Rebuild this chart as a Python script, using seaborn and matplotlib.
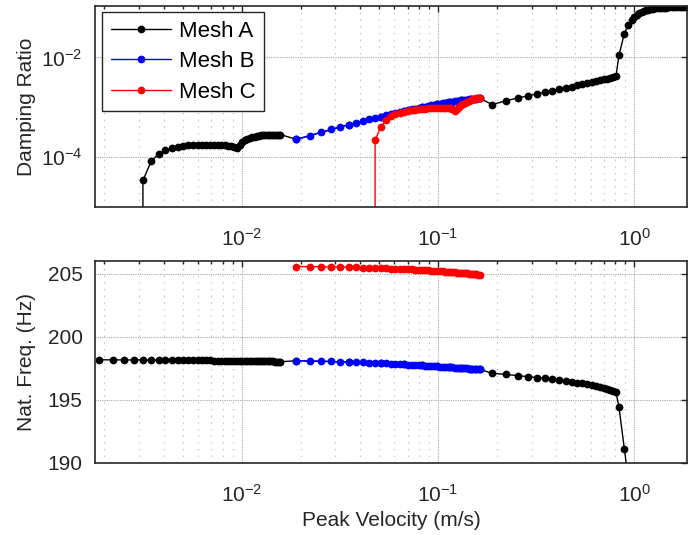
import matplotlib
matplotlib.use("Agg")
import matplotlib.pyplot as plt
import seaborn as sns
from matplotlib.ticker import (FixedLocator, LogLocator, NullLocator,
                               NullFormatter, LogFormatterSciNotation)

# ---------------- Mesh A ----------------
vel_a = [
    0.00188, 0.00220, 0.00251, 0.00283, 0.00314, 0.00346, 0.00377, 0.00409,
    0.00440, 0.00472, 0.00503, 0.00535, 0.00566, 0.00598, 0.00629, 0.00661,
    0.00692, 0.00724, 0.00755, 0.00787, 0.00818, 0.00850, 0.00881, 0.00913,
    0.00944, 0.00976, 0.01007, 0.01039, 0.01070, 0.01102, 0.01133, 0.01165,
    0.01196, 0.01228, 0.01259, 0.01291, 0.01322, 0.01354, 0.01385, 0.01417,
    0.01448, 0.01480, 0.01511, 0.01543, 0.01574,
    0.0190, 0.0350, 0.0510, 0.0670, 0.0830, 0.0990, 0.1150, 0.1310, 0.1470,
    0.1630,
    0.189, 0.221, 0.254, 0.286, 0.319, 0.350, 0.380, 0.414, 0.448, 0.479,
    0.509, 0.540, 0.573, 0.605, 0.637, 0.668, 0.697, 0.725, 0.755, 0.782,
    0.806,
    0.835, 0.889, 0.930, 0.970, 1.00, 1.03, 1.06, 1.09, 1.12, 1.15, 1.18,
    1.21, 1.25, 1.29, 1.33, 1.37, 1.41, 1.45, 1.50, 1.55, 1.60, 1.65, 1.70,
    1.75, 1.80, 1.85,
]
damp_a = [
    -2.0e-4, -1.4e-4, -9.0e-5, -4.0e-5, 3.4e-5, 8.3e-5, 1.15e-4, 1.36e-4,
    1.50e-4, 1.60e-4, 1.67e-4, 1.72e-4, 1.75e-4, 1.77e-4, 1.78e-4, 1.785e-4,
    1.785e-4, 1.78e-4, 1.77e-4, 1.75e-4, 1.72e-4, 1.69e-4, 1.65e-4, 1.58e-4,
    1.53e-4, 1.72e-4, 1.97e-4, 2.16e-4, 2.31e-4, 2.43e-4, 2.52e-4, 2.59e-4,
    2.65e-4, 2.69e-4, 2.73e-4, 2.76e-4, 2.78e-4, 2.80e-4, 2.81e-4, 2.82e-4,
    2.83e-4, 2.83e-4, 2.84e-4, 2.84e-4, 2.84e-4,
    2.27e-4, 4.46e-4, 6.50e-4, 8.35e-4, 1.002e-3, 1.148e-3, 1.272e-3,
    1.374e-3, 1.458e-3, 1.518e-3,
    1.13e-3, 1.35e-3, 1.53e-3, 1.69e-3, 1.85e-3, 2.00e-3, 2.15e-3, 2.30e-3,
    2.45e-3, 2.59e-3, 2.74e-3, 2.88e-3, 3.03e-3, 3.18e-3, 3.33e-3, 3.47e-3,
    3.61e-3, 3.75e-3, 3.90e-3, 4.05e-3, 4.20e-3,
    0.0111, 0.0300, 0.0447, 0.0563, 0.0650, 0.0715, 0.0770, 0.0812, 0.0848,
    0.0878, 0.0902, 0.0922, 0.0943, 0.0960, 0.0973, 0.0984, 0.0993, 0.1000,
    0.1008, 0.1014, 0.1019, 0.1023, 0.1026, 0.1029, 0.1031, 0.1033,
]
freq_a = [
    198.17, 198.17, 198.16, 198.16, 198.16, 198.15, 198.15, 198.15, 198.14,
    198.14, 198.14, 198.13, 198.13, 198.13, 198.12, 198.12, 198.12, 198.11,
    198.11, 198.11, 198.10, 198.10, 198.10, 198.09, 198.09, 198.09, 198.08,
    198.08, 198.08, 198.07, 198.07, 198.07, 198.06, 198.06, 198.06, 198.05,
    198.05, 198.05, 198.04, 198.04, 198.04, 198.03, 198.03, 198.03, 198.02,
    198.10, 198.00, 197.90, 197.81, 197.73, 197.66, 197.59, 197.53, 197.47,
    197.42,
    197.10, 197.02, 196.92, 196.84, 196.76, 196.71, 196.66, 196.58, 196.50,
    196.44, 196.37, 196.31, 196.23, 196.16, 196.10, 196.02, 195.94, 195.87,
    195.79, 195.71, 195.60,
    194.42, 191.13, 188.8, 186.9, 185.6, 184.4, 183.3, 182.3, 181.4, 180.6,
    179.8, 179.1, 178.2, 177.4, 176.7, 176.0, 175.4, 174.8, 174.1, 173.4,
    172.8, 172.2, 171.7, 171.2, 170.7, 170.2,
]

# ---------------- Mesh B / Mesh C (same velocity steps) ----------------
vel_bc = [
    0.0190, 0.0222, 0.0254, 0.0286, 0.0318, 0.0350, 0.0382, 0.0414, 0.0446,
    0.0478, 0.0510, 0.0542, 0.0574, 0.0606, 0.0638, 0.0670, 0.0702, 0.0734,
    0.0766, 0.0798, 0.0830, 0.0862, 0.0894, 0.0926, 0.0958, 0.0990, 0.1022,
    0.1054, 0.1086, 0.1118, 0.1150, 0.1182, 0.1214, 0.1246, 0.1278, 0.1310,
    0.1342, 0.1374, 0.1406, 0.1438, 0.1470, 0.1502, 0.1534, 0.1566, 0.1598,
    0.1630,
]
damp_b = [
    2.27e-4, 2.70e-4, 3.15e-4, 3.60e-4, 4.03e-4, 4.46e-4, 4.88e-4, 5.30e-4,
    5.70e-4, 6.10e-4, 6.50e-4, 6.88e-4, 7.26e-4, 7.63e-4, 7.99e-4, 8.35e-4,
    8.70e-4, 9.04e-4, 9.37e-4, 9.70e-4, 1.002e-3, 1.033e-3, 1.063e-3,
    1.092e-3, 1.120e-3, 1.148e-3, 1.175e-3, 1.200e-3, 1.225e-3, 1.250e-3,
    1.272e-3, 1.294e-3, 1.315e-3, 1.335e-3, 1.355e-3, 1.374e-3, 1.392e-3,
    1.410e-3, 1.427e-3, 1.443e-3, 1.458e-3, 1.472e-3, 1.485e-3, 1.497e-3,
    1.508e-3, 1.518e-3,
]
freq_b = [
    198.10, 198.08, 198.06, 198.04, 198.02, 198.00, 197.98, 197.96, 197.94,
    197.92, 197.90, 197.88, 197.86, 197.85, 197.83, 197.81, 197.80, 197.78,
    197.76, 197.75, 197.73, 197.72, 197.70, 197.69, 197.67, 197.66, 197.64,
    197.63, 197.62, 197.60, 197.59, 197.58, 197.56, 197.55, 197.54, 197.53,
    197.51, 197.50, 197.49, 197.48, 197.47, 197.46, 197.45, 197.44, 197.43,
    197.42,
]
damp_c = [
    -6.0e-4, -5.2e-4, -4.5e-4, -3.8e-4, -3.1e-4, -2.4e-4, -1.7e-4, -1.0e-4,
    -3.0e-5, 2.17e-4, 4.00e-4, 5.45e-4, 6.60e-4, 7.30e-4, 7.80e-4, 8.20e-4,
    8.50e-4, 8.75e-4, 8.95e-4, 9.10e-4, 9.25e-4, 9.40e-4, 9.50e-4, 9.60e-4,
    9.70e-4, 9.75e-4, 9.80e-4, 9.80e-4, 9.75e-4, 9.65e-4, 9.50e-4, 9.10e-4,
    8.60e-4, 9.30e-4, 1.01e-3, 1.09e-3, 1.16e-3, 1.23e-3, 1.29e-3, 1.35e-3,
    1.40e-3, 1.45e-3, 1.49e-3, 1.52e-3, 1.55e-3, 1.57e-3,
]
freq_c = [
    205.56, 205.55, 205.54, 205.53, 205.52, 205.50, 205.49, 205.48, 205.46,
    205.45, 205.43, 205.42, 205.40, 205.39, 205.37, 205.36, 205.34, 205.33,
    205.31, 205.30, 205.28, 205.27, 205.25, 205.24, 205.22, 205.20, 205.19,
    205.17, 205.16, 205.14, 205.13, 205.11, 205.10, 205.08, 205.07, 205.05,
    205.04, 205.02, 205.01, 204.99, 204.98, 204.96, 204.95, 204.94, 204.92,
    204.91,
]

series = [
    ("Mesh A", vel_a, damp_a, freq_a, "#000000"),
    ("Mesh B", vel_bc, damp_b, freq_b, "#0000FF"),
    ("Mesh C", vel_bc, damp_c, freq_c, "#FF0000"),
]

sns.set_style("white")
plt.rcParams["font.family"] = ["Liberation Sans", "DejaVu Sans"]
plt.rcParams["mathtext.fontset"] = "custom"
plt.rcParams["mathtext.rm"] = "Liberation Sans"
plt.rcParams["mathtext.it"] = "Liberation Sans:italic"
plt.rcParams["mathtext.bf"] = "Liberation Sans:bold"

TXT = "#262626"
FS = 15

fig = plt.figure(figsize=(6.93, 5.35), dpi=100)
ax1 = fig.add_axes([0.1371, 0.6131, 0.8543, 0.3757])
ax2 = fig.add_axes([0.1371, 0.1346, 0.8543, 0.3776])

line_kw = dict(marker="o", markersize=5.6, markeredgewidth=0, linewidth=1.0,
               estimator=None, sort=False)

for name, v, d, f, c in series:
    sns.lineplot(x=v, y=d, ax=ax1, color=c, label=name, **line_kw)
    sns.lineplot(x=v, y=f, ax=ax2, color=c, legend=False, **line_kw)

# log scales applied after drawing so negative damping plunges off the axis
ax1.set_xscale("log")
ax1.set_yscale("log")
ax2.set_xscale("log")

xlim = (1.79e-3, 1.855)
ax1.set_xlim(*xlim)
ax2.set_xlim(*xlim)
ax1.set_ylim(1e-5, 0.1075)
ax2.set_ylim(190, 206)

ax1.yaxis.set_major_locator(FixedLocator([1e-4, 1e-2]))
ax1.yaxis.set_major_formatter(LogFormatterSciNotation())
ax1.yaxis.set_minor_locator(NullLocator())
ax2.yaxis.set_major_locator(FixedLocator([190, 195, 200, 205]))
ax2.yaxis.set_minor_locator(NullLocator())

for ax in (ax1, ax2):
    ax.xaxis.set_major_locator(FixedLocator([1e-2, 1e-1, 1e0]))
    ax.xaxis.set_major_formatter(LogFormatterSciNotation())
    ax.xaxis.set_minor_locator(LogLocator(base=10, subs=range(2, 10), numticks=20))
    ax.xaxis.set_minor_formatter(NullFormatter())
    ax.tick_params(which="both", direction="in", top=True, right=True,
                   color=TXT, labelcolor=TXT, labelsize=FS, width=1.0)
    ax.tick_params(which="major", length=4.5, pad=9)
    ax.tick_params(which="minor", length=2.5)
    ax.tick_params(axis="x", which="major", pad=15)
    for s in ax.spines.values():
        s.set_color(TXT)
        s.set_linewidth(1.2)
    ax.grid(which="major", axis="both", color="#a8a8a8", linestyle=(0, (1, 1)),
            linewidth=0.8)
    ax.grid(which="minor", axis="x", color="#b4b4b4", linestyle=(0, (1, 5)),
            linewidth=0.8)
    ax.set_axisbelow(True)
    ax.set_xlabel("")

ax1.set_ylabel("Damping Ratio", fontsize=FS, color=TXT)
ax2.set_ylabel("Nat. Freq. (Hz)", fontsize=FS, color=TXT)
ax2.set_xlabel("Peak Velocity (m/s)", fontsize=FS, color=TXT)
ax1.yaxis.set_label_coords(-0.10, 0.5)
ax2.yaxis.set_label_coords(-0.10, 0.5)
ax2.xaxis.set_label_coords(0.5, -0.24)

handles, labels = ax1.get_legend_handles_labels()
leg = ax1.legend(handles, labels, loc="upper left", bbox_to_anchor=(0.0118, 0.970),
                 borderaxespad=0, fontsize=16, frameon=True, fancybox=False,
                 framealpha=1, edgecolor=TXT, handlelength=2.7,
                 handletextpad=0.35, labelspacing=0.42, borderpad=0.4)
leg.get_frame().set_linewidth(1.0)
for t in leg.get_texts():
    t.set_color("#000000")

fig.savefig("out.png", dpi=100)
